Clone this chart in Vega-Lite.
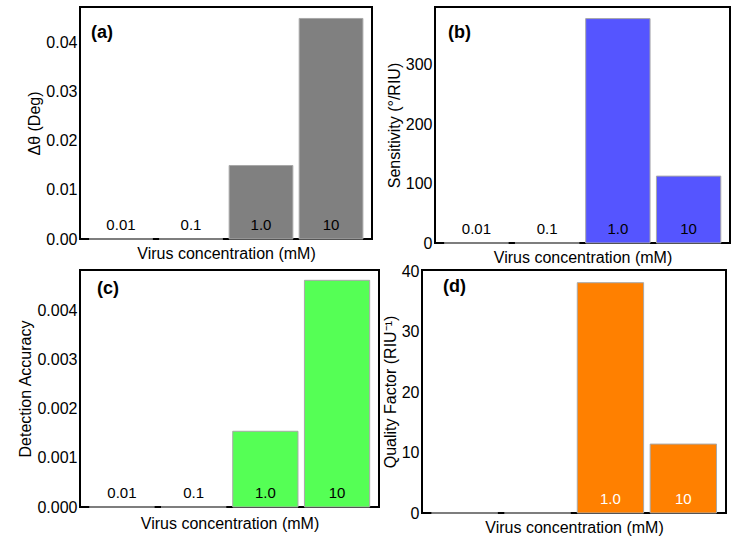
{
  "$schema": "https://vega.github.io/schema/vega-lite/v6.json",
  "padding": {"left": 16, "top": 6, "right": 5, "bottom": 5},
  "config": {
    "font": "Liberation Sans",
    "view": {"stroke": "black", "strokeWidth": 2},
    "axis": {
      "labelFontSize": 16,
      "titleFontSize": 16,
      "labelColor": "black",
      "titleColor": "black",
      "titleFontWeight": "normal",
      "grid": false,
      "ticks": false,
      "domain": false,
      "labelOverlap": false,
      "labelPadding": 3,
      "titlePadding": 3
    },
    "title": {"fontSize": 18, "fontWeight": "bold", "color": "black"}
  },
  "datasets": {
    "delta": [
      {"conc": "0.01", "value": 0},
      {"conc": "0.1", "value": 0},
      {"conc": "1.0", "value": 0.0150},
      {"conc": "10", "value": 0.0450}
    ],
    "sens": [
      {"conc": "0.01", "value": 0},
      {"conc": "0.1", "value": 0},
      {"conc": "1.0", "value": 377.5},
      {"conc": "10", "value": 112.5}
    ],
    "acc": [
      {"conc": "0.01", "value": 0},
      {"conc": "0.1", "value": 0},
      {"conc": "1.0", "value": 0.00154},
      {"conc": "10", "value": 0.00461}
    ],
    "qf": [
      {"conc": "0.01", "value": 0},
      {"conc": "0.1", "value": 0},
      {"conc": "1.0", "value": 38.1},
      {"conc": "10", "value": 11.4}
    ]
  },
  "columns": 1,
  "align": "none",
  "spacing": -4,
  "concat": [
    {
      "spacing": 12,
      "hconcat": [
        {
          "width": 292,
          "height": 232,
          "data": {"name": "delta"},
          "title": {"text": "(a)", "anchor": "start", "frame": "group", "offset": -35, "dx": 11},
          "encoding": {
            "x": {
              "field": "conc",
              "type": "nominal",
              "scale": {"domain": ["0.01", "0.1", "1.0", "10"], "paddingInner": 0.09, "paddingOuter": 0.13},
              "axis": {"labels": false, "title": "Virus concentration (mM)", "titlePadding": 6}
            }
          },
          "layer": [
            {
              "mark": {"type": "bar", "color": "#808080", "stroke": "#a8a8a8", "strokeWidth": 1},
              "encoding": {
                "y": {
                  "field": "value",
                  "type": "quantitative",
                  "scale": {"domain": [0, 0.04734], "nice": false},
                  "axis": {"title": "Δθ (Deg)", "values": [0, 0.01, 0.02, 0.03, 0.04], "format": ".2f", "labelOverlap": false}
                }
              }
            },
            {
              "mark": {"type": "text", "baseline": "alphabetic", "dy": -9, "fontSize": 15, "color": "black"},
              "encoding": {
                "y": {"datum": 0, "type": "quantitative"},
                "text": {"field": "conc"}
              }
            }
          ]
        },
        {
          "width": 295,
          "height": 236,
          "data": {"name": "sens"},
          "title": {"text": "(b)", "anchor": "start", "frame": "group", "offset": -35, "dx": 13},
          "encoding": {
            "x": {
              "field": "conc",
              "type": "nominal",
              "scale": {"domain": ["0.01", "0.1", "1.0", "10"], "paddingInner": 0.09, "paddingOuter": 0.13},
              "axis": {"labels": false, "title": "Virus concentration (mM)", "titlePadding": 6}
            }
          },
          "layer": [
            {
              "mark": {"type": "bar", "color": "#5555ff", "stroke": "#a8a8a8", "strokeWidth": 1},
              "encoding": {
                "y": {
                  "field": "value",
                  "type": "quantitative",
                  "scale": {"domain": [0, 397], "nice": false},
                  "axis": {"title": "Sensitivity (°/RIU)", "values": [0, 50, 100, 150, 200, 250, 300, 350], "labelOverlap": false}
                }
              }
            },
            {
              "mark": {"type": "text", "baseline": "alphabetic", "dy": -9, "fontSize": 15, "color": "black"},
              "encoding": {
                "y": {"datum": 0, "type": "quantitative"},
                "text": {"field": "conc"}
              }
            }
          ]
        }
      ]
    },
    {
      "spacing": 1,
      "hconcat": [
        {
          "width": 299,
          "height": 237,
          "data": {"name": "acc"},
          "title": {"text": "(c)", "anchor": "start", "frame": "group", "offset": -28, "dx": 17},
          "encoding": {
            "x": {
              "field": "conc",
              "type": "nominal",
              "scale": {"domain": ["0.01", "0.1", "1.0", "10"], "paddingInner": 0.09, "paddingOuter": 0.13},
              "axis": {"labels": false, "title": "Virus concentration (mM)", "titlePadding": 8}
            }
          },
          "layer": [
            {
              "mark": {"type": "bar", "color": "#55ff55", "stroke": "#a8a8a8", "strokeWidth": 1},
              "encoding": {
                "y": {
                  "field": "value",
                  "type": "quantitative",
                  "scale": {"domain": [0, 0.00482], "nice": false},
                  "axis": {"title": "Detection Accuracy", "values": [0, 0.001, 0.002, 0.003, 0.004], "format": ".3f", "labelOverlap": false}
                }
              }
            },
            {
              "mark": {"type": "text", "baseline": "alphabetic", "dy": -9, "fontSize": 15, "color": "black"},
              "encoding": {
                "y": {"datum": 0, "type": "quantitative"},
                "text": {"field": "conc"}
              }
            }
          ]
        },
        {
          "width": 304,
          "height": 243,
          "data": {"name": "qf"},
          "title": {"text": "(d)", "anchor": "start", "frame": "group", "offset": -33, "dx": 21},
          "encoding": {
            "x": {
              "field": "conc",
              "type": "nominal",
              "scale": {"domain": ["0.01", "0.1", "1.0", "10"], "paddingInner": 0.09, "paddingOuter": 0.13},
              "axis": {"labels": false, "title": "Virus concentration (mM)", "titlePadding": 6}
            }
          },
          "layer": [
            {
              "mark": {"type": "bar", "color": "#ff8000", "stroke": "#a8a8a8", "strokeWidth": 1},
              "encoding": {
                "y": {
                  "field": "value",
                  "type": "quantitative",
                  "scale": {"domain": [0, 40.2], "nice": false},
                  "axis": {"title": "Quality Factor (RIU⁻¹)", "values": [0, 10, 20, 30, 40], "labelOverlap": false}
                }
              }
            },
            {
              "transform": [{"filter": "datum.value > 0"}],
              "mark": {"type": "text", "baseline": "alphabetic", "dy": -9, "fontSize": 15, "color": "white"},
              "encoding": {
                "y": {"datum": 0, "type": "quantitative"},
                "text": {"field": "conc"}
              }
            }
          ]
        }
      ]
    }
  ]
}
